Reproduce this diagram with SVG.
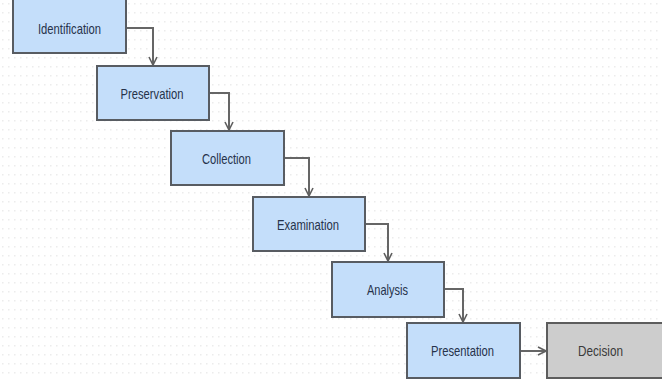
<svg xmlns="http://www.w3.org/2000/svg" width="662" height="379" viewBox="0 0 662 379">
<defs>
<pattern id="dots" width="6" height="9" patternUnits="userSpaceOnUse">
<rect x="2" y="3" width="1.5" height="1.5" fill="#ececec"/>
</pattern>
<marker id="arr" viewBox="0 0 10 10" refX="9" refY="5" markerWidth="10" markerHeight="10" markerUnits="userSpaceOnUse" orient="auto">
<path d="M1,1 L9,5 L1,9" fill="none" stroke="#5f5f5f" stroke-width="1.6"/>
</marker>
<style>
.box{fill:#c4defa;stroke:#585c62;stroke-width:2}
.dec{fill:#cdcdcd;stroke:#5d5d5d;stroke-width:2}
.lbl{font-family:"Liberation Sans",Arial,sans-serif;font-size:15px;fill:#26324a;text-anchor:middle}
.dlbl{font-family:"Liberation Sans",Arial,sans-serif;font-size:15px;fill:#3a3a3a;text-anchor:middle}
.con{fill:none;stroke:#666;stroke-width:2;marker-end:url(#arr)}
</style>
</defs>
<rect width="662" height="379" fill="#fff"/>
<rect width="662" height="379" fill="url(#dots)"/>
<g id="connectors">
<path class="con" d="M126,28 H153 V65"/>
<path class="con" d="M209,93 H229 V130"/>
<path class="con" d="M284,158 H309 V196"/>
<path class="con" d="M365,224 H388 V261"/>
<path class="con" d="M444,289 H463 V322"/>
<path class="con" d="M520,351 H546"/>
</g>
<g id="identification">
<rect class="box" x="13" y="-3" width="113" height="56"/>
<text class="lbl" x="69.5" y="33.5" textLength="63" lengthAdjust="spacingAndGlyphs">Identification</text>
</g>
<g id="preservation">
<rect class="box" x="97" y="66" width="112" height="54"/>
<text class="lbl" x="152" y="98.5" textLength="63" lengthAdjust="spacingAndGlyphs">Preservation</text>
</g>
<g id="collection">
<rect class="box" x="171" y="131" width="113" height="54"/>
<text class="lbl" x="226.5" y="163.5" textLength="49" lengthAdjust="spacingAndGlyphs">Collection</text>
</g>
<g id="examination">
<rect class="box" x="253" y="197" width="112" height="54"/>
<text class="lbl" x="308" y="229.5" textLength="62" lengthAdjust="spacingAndGlyphs">Examination</text>
</g>
<g id="analysis">
<rect class="box" x="332" y="262" width="112" height="55"/>
<text class="lbl" x="387.5" y="295" textLength="41" lengthAdjust="spacingAndGlyphs">Analysis</text>
</g>
<g id="presentation">
<rect class="box" x="407" y="323" width="113" height="55"/>
<text class="lbl" x="462.5" y="356" textLength="63" lengthAdjust="spacingAndGlyphs">Presentation</text>
</g>
<g id="decision">
<rect class="dec" x="547" y="323" width="117" height="55"/>
<text class="dlbl" x="600.5" y="356" textLength="45" lengthAdjust="spacingAndGlyphs">Decision</text>
</g>
</svg>
